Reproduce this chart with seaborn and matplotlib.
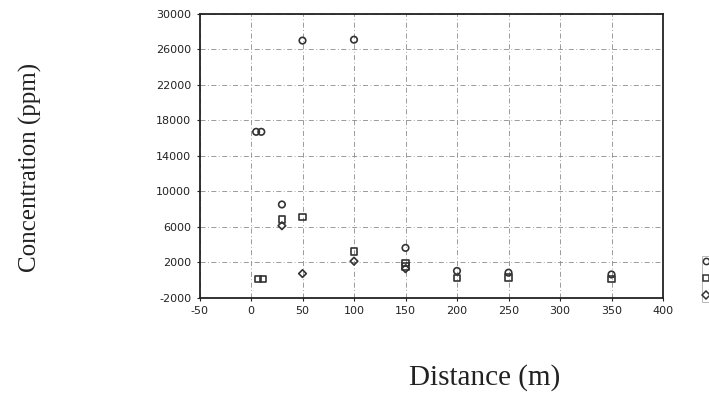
import matplotlib
matplotlib.use("Agg")
import matplotlib.pyplot as plt
import seaborn as sns
import pandas as pd
from matplotlib.lines import Line2D

# Data (distance in m, concentration in ppm)
circle_dist = [5, 10, 30, 50, 100, 150, 200, 250, 350]
circle_conc = [16700, 16700, 8500, 27000, 27100, 3600, 1000, 800, 600]

square_dist = [7, 12, 30, 50, 100, 150, 150, 200, 250, 350]
square_conc = [100, 100, 6800, 7100, 3200, 1900, 1500, 200, 250, 100]

diamond_dist = [30, 50, 100, 150]
diamond_conc = [6100, 700, 2100, 1250]

x_ticks = [-50, 0, 50, 100, 150, 200, 250, 300, 350, 400]
y_ticks = [-2000, 2000, 6000, 10000, 14000, 18000, 22000, 26000, 30000]

sns.set_theme(style="white")
plt.rcParams['font.family'] = ['DejaVu Sans']

fig = plt.figure(figsize=(7.09, 3.93), dpi=100)
fig.patch.set_facecolor('white')
ax = fig.add_axes([199.5 / 709, 1 - 297.5 / 393, 463.5 / 709, 283.5 / 393])
ax.set_facecolor('white')

edge = '#333333'
sns.scatterplot(x=circle_dist, y=circle_conc, marker='o', s=22,
                facecolors='none', edgecolors=edge, linewidth=1.2, ax=ax, legend=False, zorder=3)
sns.scatterplot(x=square_dist, y=square_conc, marker='s', s=20,
                facecolors='none', edgecolors=edge, linewidth=1.2, ax=ax, legend=False, zorder=3)
sns.scatterplot(x=diamond_dist, y=diamond_conc, marker='D', s=15,
                facecolors='none', edgecolors=edge, linewidth=1.2, ax=ax, legend=False, zorder=3)

ax.set_xlim(-50, 400)
ax.set_ylim(-2000, 30000)
ax.set_xticks(x_ticks)
ax.set_yticks(y_ticks)
ax.set_xticklabels([str(v) for v in x_ticks])
ax.set_yticklabels([str(v) for v in y_ticks])
ax.tick_params(axis='both', labelsize=8, colors='#222222', length=2, width=0.8, pad=4,
               direction='out', left=True, bottom=True)

ax.grid(True, color='#8a8a8a', linewidth=0.6, linestyle=(0, (6, 3, 1, 3)))
ax.set_axisbelow(True)
for sp in ax.spines.values():
    sp.set_visible(True)
    sp.set_color('#222222')
    sp.set_linewidth(1.3)

ax.set_xlabel('Distance (m)', family='Liberation Serif', fontsize=21, color='#222222')
ax.set_ylabel('Concentration (ppm)', family='Liberation Serif', fontsize=18, color='#222222')
ax.xaxis.set_label_coords((485 - 199.5) / 463.5, (297.5 - 378) / 283.5)
ax.yaxis.set_label_coords((30 - 199.5) / 463.5, (297.5 - 167) / 283.5)
ax.xaxis.label.set_va('center')
ax.yaxis.label.set_va('center')

handles = [
    Line2D([], [], marker='o', linestyle='none', markersize=4.5, markerfacecolor='none',
           markeredgecolor=edge, markeredgewidth=1.1),
    Line2D([], [], marker='s', linestyle='none', markersize=4.2, markerfacecolor='none',
           markeredgecolor=edge, markeredgewidth=1.1),
    Line2D([], [], marker='D', linestyle='none', markersize=3.6, markerfacecolor='none',
           markeredgecolor=edge, markeredgewidth=1.1),
]
leg = fig.legend(handles, ['', '', ''], loc='center left',
                 bbox_to_anchor=(701.5 / 709, 1 - 279 / 393),
                 frameon=True, fancybox=False, borderaxespad=0, borderpad=0.15,
                 handlelength=0.5, handletextpad=0.2, labelspacing=0.6, fontsize=8)
leg.get_frame().set_edgecolor('#999999')
leg.get_frame().set_linewidth(0.6)

fig.savefig('out.png', dpi=100, facecolor='white')
